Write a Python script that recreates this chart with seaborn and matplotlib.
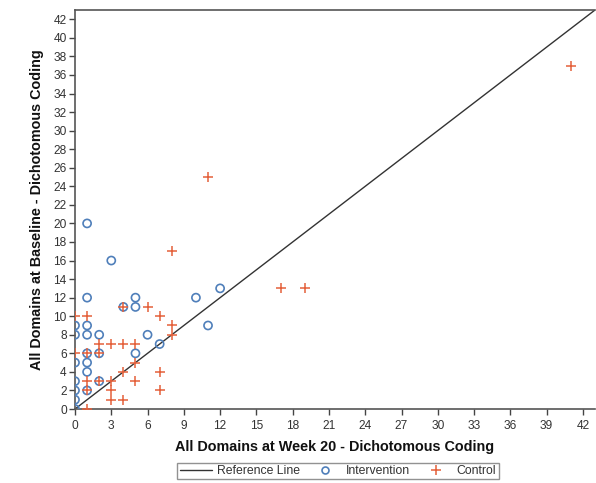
import numpy as np
import pandas as pd
import matplotlib
matplotlib.use("Agg")
import matplotlib.pyplot as plt
import seaborn as sns
from matplotlib.lines import Line2D

# Data (week 20 score, baseline score)
int_week20 = [1, 3, 12, 1, 5, 10, 4, 5, 11, 0, 1, 0, 1, 2, 6, 7, 1, 2, 5, 0, 1, 1, 0, 2, 0, 1, 0, 0]
int_base   = [20, 16, 13, 12, 12, 12, 11, 11, 9, 9, 9, 8, 8, 8, 8, 7, 6, 6, 6, 5, 5, 4, 3, 3, 2, 2, 1, 0]

ctl_week20 = [41, 11, 8, 17, 19, 4, 6, 0, 1, 7, 8, 8, 2, 3, 4, 5, 0, 1, 2, 5, 4, 7, 1, 2, 3, 5, 1, 3, 7, 3, 4, 1]
ctl_base   = [37, 25, 17, 13, 13, 11, 11, 10, 10, 10, 9, 8, 7, 7, 7, 7, 6, 6, 6, 5, 4, 4, 3, 3, 3, 3, 2, 2, 2, 1, 1, 0]

x_ticks = list(range(0, 43, 3))
y_ticks = list(range(0, 43, 2))

int_df = pd.DataFrame({"week20": int_week20, "baseline": int_base})
ctl_df = pd.DataFrame({"week20": ctl_week20, "baseline": ctl_base})

sns.set_style("white")
plt.rcParams["font.family"] = ["Liberation Sans", "DejaVu Sans"]

BLUE = "#4f7fba"
ORANGE = "#e4603a"
TXT = "#333333"

fig = plt.figure(figsize=(5.96, 4.83), dpi=100)
ax = fig.add_axes([75 / 596, 74 / 483, 520 / 596, 399 / 483])

ax.axline((0, 0), slope=1, color="#333333", lw=1.0, zorder=1)

sns.scatterplot(data=int_df, x="week20", y="baseline", ax=ax, marker="o",
                facecolors="none", edgecolor=BLUE, color=BLUE, linewidth=1.2, s=34, zorder=3)
sns.scatterplot(data=ctl_df, x="week20", y="baseline", ax=ax, marker="+",
                color=ORANGE, linewidth=1.1, s=42, zorder=4)

ax.set_xlim(0, 43)
ax.set_ylim(0, 43)
ax.set_xticks(x_ticks)
ax.set_yticks(y_ticks)
ax.tick_params(axis="both", which="major", direction="out", length=4, width=1,
               color="#444444", labelsize=8.6, labelcolor=TXT, bottom=True, left=True)
ax.tick_params(axis="x", pad=4)
ax.tick_params(axis="y", pad=2)

for side in ["left", "bottom", "top"]:
    ax.spines[side].set_visible(True)
    ax.spines[side].set_color("#555555")
    ax.spines[side].set_linewidth(1.2)
ax.spines["right"].set_visible(False)

ax.set_xlabel("All Domains at Week 20 - Dichotomous Coding", fontsize=10.4,
              fontweight="bold", color="#111111", labelpad=6)
ax.set_ylabel("All Domains at Baseline - Dichotomous Coding", fontsize=10.4,
              fontweight="bold", color="#111111", labelpad=7)

handles = [
    Line2D([], [], color="#333333", lw=1.0),
    Line2D([], [], linestyle="none", marker="o", markerfacecolor="none",
           markeredgecolor=BLUE, markersize=5, markeredgewidth=1.2),
    Line2D([], [], linestyle="none", marker="+", color=ORANGE,
           markersize=7, markeredgewidth=1.1),
]
labels = ["Reference Line", "Intervention", "Control"]
leg = fig.legend(handles, labels, loc="center", bbox_to_anchor=(338 / 596, 1 - 471 / 483),
                 ncol=3, frameon=True, fancybox=False, fontsize=8.8, handlelength=2.6,
                 handletextpad=0.4, columnspacing=0.8, borderpad=0.2, borderaxespad=0)
leg.get_frame().set_edgecolor("#777777")
leg.get_frame().set_linewidth(1.0)
for t in leg.get_texts():
    t.set_color(TXT)

fig.savefig("out.png", dpi=100)
